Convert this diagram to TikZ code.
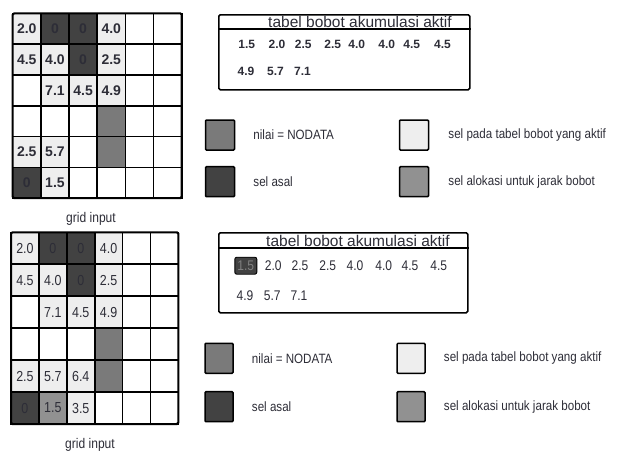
\documentclass[tikz,border=0pt]{standalone}
\usepackage{fontspec}
\setmainfont{Liberation Sans}
\newfontfamily\sempit[FakeStretch=0.86]{Liberation Sans}
\usepackage{tikz}
\usetikzlibrary{positioning}
\definecolor{teks}{RGB}{45,45,55}
\definecolor{abuasal}{RGB}{66,66,66}
\definecolor{abunodata}{RGB}{122,122,122}
\definecolor{abualokasi}{RGB}{145,145,145}
\definecolor{abuaktif}{RGB}{238,238,238}

\begin{document}
\begin{tikzpicture}[
  x=1pt, y=-1pt,
  sel/.style={
    rectangle, draw=black, line width=1.6pt,
    inner sep=0pt, outer sep=0pt, text=teks
  },
  kosong/.style={fill=white},
  aktif/.style={fill=abuaktif},
  asal/.style={fill=abuasal},
  nodata/.style={fill=abunodata},
  alokasi/.style={fill=abualokasi},
  selatas/.style={sel, minimum width=28.2pt, minimum height=30.8pt,
    font=\fontsize{14}{16}\selectfont\bfseries},
  selbawah/.style={sel, minimum width=27.9pt, minimum height=31.95pt,
    font=\sempit\fontsize{14.5}{16}\selectfont},
  tabel/.style={
    rectangle, draw=black, line width=1.6pt, rounded corners=1.5pt,
    inner sep=0pt, anchor=north west
  },
  garis/.style={draw=black, line width=1.8pt},
  judul/.style={font=\fontsize{15.5}{17}\selectfont, text=teks, inner sep=0pt},
  angkaatas/.style={font=\fontsize{12}{14}\selectfont\bfseries, text=teks},
  angkabawah/.style={font=\sempit\fontsize{14}{16}\selectfont, text=teks},
  sorot/.style={
    fill=abuasal, draw=black, line width=0.9pt, rounded corners=2pt,
    minimum width=22pt, minimum height=17pt, inner sep=0pt,
    text=black!50, font=\sempit\fontsize{14}{16}\selectfont
  },
  kotak/.style={
    rectangle, draw=black, line width=1.5pt, rounded corners=1pt,
    minimum width=29pt, minimum height=30pt, inner sep=0pt
  },
  ket/.style={font=\sempit\fontsize{13.5}{16}\selectfont, text=teks,
    inner sep=0pt, anchor=west},
  labelgrid/.style={font=\sempit\fontsize{14}{16}\selectfont, text=teks}
]
\useasboundingbox (0,0) rectangle (624,456);

% ── GRID ATAS ─────────────────────────────────────────────────

\foreach \jenis/\nilai [count=\i from 0,
    evaluate=\i as \kol using {int(mod(\i,6))},
    evaluate=\i as \brs using {int(\i/6)}] in {
  aktif/2.0, asal/0, asal/0, aktif/4.0, kosong/{}, kosong/{},
  aktif/4.5, aktif/4.0, asal/0, aktif/2.5, kosong/{}, kosong/{},
  kosong/{}, aktif/7.1, aktif/4.5, aktif/4.9, kosong/{}, kosong/{},
  kosong/{}, kosong/{}, kosong/{}, nodata/{}, kosong/{}, kosong/{},
  aktif/2.5, aktif/5.7, kosong/{}, nodata/{}, kosong/{}, kosong/{},
  asal/0, aktif/1.5, kosong/{}, kosong/{}, kosong/{}, kosong/{}}
  \node[selatas, \jenis] (atas-\i)
    at ({12.7+28.17*(\kol+0.5)}, {13.3+30.8*(\brs+0.5)}) {\nilai};
\draw[line width=2pt, rounded corners=1.5pt] (atas-0.north west) rectangle (atas-35.south east);
\node[labelgrid] (input-atas) at (91,219) {grid input};

% ── TABEL ATAS ────────────────────────────────────────────────

\node[tabel, minimum width=251pt, minimum height=75pt] (tabel-atas) at (218,14) {};
\draw[garis] ([yshift=-15.3pt]tabel-atas.north west) -- ([yshift=-15.3pt]tabel-atas.north east);
\node[judul, anchor=base] (judul-atas) at (360,27.3) {tabel bobot akumulasi aktif};
\foreach \x/\v [count=\k] in {246.7/1.5, 277/2.0, 303.3/2.5, 332.7/2.5,
    356.7/4.0, 386.7/4.0, 411.7/4.5, 442.5/4.5}
  \node[angkaatas] (ta1-\k) at (\x,44.7) {\v};
\foreach \x/\v [count=\k] in {246/4.9, 275.5/5.7, 302.5/7.1}
  \node[angkaatas] (ta2-\k) at (\x,71.7) {\v};

% ── LEGENDA ATAS ──────────────────────────────────────────────

\node[kotak, nodata] (lg1-nodata) at (220,135) {};
\node[ket, right=18pt of lg1-nodata] {nilai = NODATA};
\node[kotak, asal] (lg1-asal) at (220,181.7) {};
\node[ket, right=18pt of lg1-asal] {sel asal};
\node[kotak, aktif] (lg1-aktif) at (414,135) {};
\node[ket, right=19pt of lg1-aktif] {sel pada tabel bobot yang aktif};
\node[kotak, alokasi] (lg1-alokasi) at (414,181.7) {};
\node[ket, right=19pt of lg1-alokasi] {sel alokasi untuk jarak bobot};

% ── GRID BAWAH ────────────────────────────────────────────────

\foreach \jenis/\nilai [count=\i from 0,
    evaluate=\i as \kol using {int(mod(\i,6))},
    evaluate=\i as \brs using {int(\i/6)}] in {
  aktif/2.0, asal/0, asal/0, aktif/4.0, kosong/{}, kosong/{},
  aktif/4.5, aktif/4.0, asal/0, aktif/2.5, kosong/{}, kosong/{},
  kosong/{}, aktif/7.1, aktif/4.5, aktif/4.9, kosong/{}, kosong/{},
  kosong/{}, kosong/{}, kosong/{}, nodata/{}, kosong/{}, kosong/{},
  aktif/2.5, aktif/5.7, aktif/6.4, nodata/{}, kosong/{}, kosong/{},
  asal/0, alokasi/1.5, aktif/3.5, kosong/{}, kosong/{}, kosong/{}}
  \node[selbawah, \jenis] (bawah-\i)
    at ({11+27.9*(\kol+0.5)}, {232.3+31.95*(\brs+0.5)}) {\nilai};
\draw[line width=2pt, rounded corners=1.5pt] (bawah-0.north west) rectangle (bawah-35.south east);
\node[labelgrid] (input-bawah) at (90,445) {grid input};

% ── TABEL BAWAH ───────────────────────────────────────────────

\node[tabel, minimum width=249pt, minimum height=80pt] (tabel-bawah) at (218,232) {};
\draw[garis] ([yshift=-16.3pt]tabel-bawah.north west) -- ([yshift=-16.3pt]tabel-bawah.north east);
\node[judul, anchor=base] (judul-bawah) at (358,246.5) {tabel bobot akumulasi aktif};
\node[sorot] (sorot) at (245.8,265.7) {1.5};
\foreach \x/\v [count=\k] in {273.3/2.0, 300/2.5, 327.7/2.5,
    355/4.0, 383.7/4.0, 410/4.5, 438.7/4.5}
  \node[angkabawah] (tb1-\k) at (\x,265.7) {\v};
\foreach \x/\v [count=\k] in {245/4.9, 272.3/5.7, 299/7.1}
  \node[angkabawah] (tb2-\k) at (\x,295.7) {\v};

% ── LEGENDA BAWAH ─────────────────────────────────────────────

\node[kotak, nodata, minimum width=28pt] (lg2-nodata) at (219,358.3) {};
\node[ket, right=18pt of lg2-nodata] {nilai = NODATA};
\node[kotak, asal, minimum width=28pt] (lg2-asal) at (219,406.7) {};
\node[ket, right=18pt of lg2-asal] {sel asal};
\node[kotak, aktif, minimum width=28pt] (lg2-aktif) at (411,358.3) {};
\node[ket, right=18pt of lg2-aktif] {sel pada tabel bobot yang aktif};
\node[kotak, alokasi, minimum width=28pt] (lg2-alokasi) at (411,406.7) {};
\node[ket, right=18pt of lg2-alokasi] {sel alokasi untuk jarak bobot};

\end{tikzpicture}
\end{document}
